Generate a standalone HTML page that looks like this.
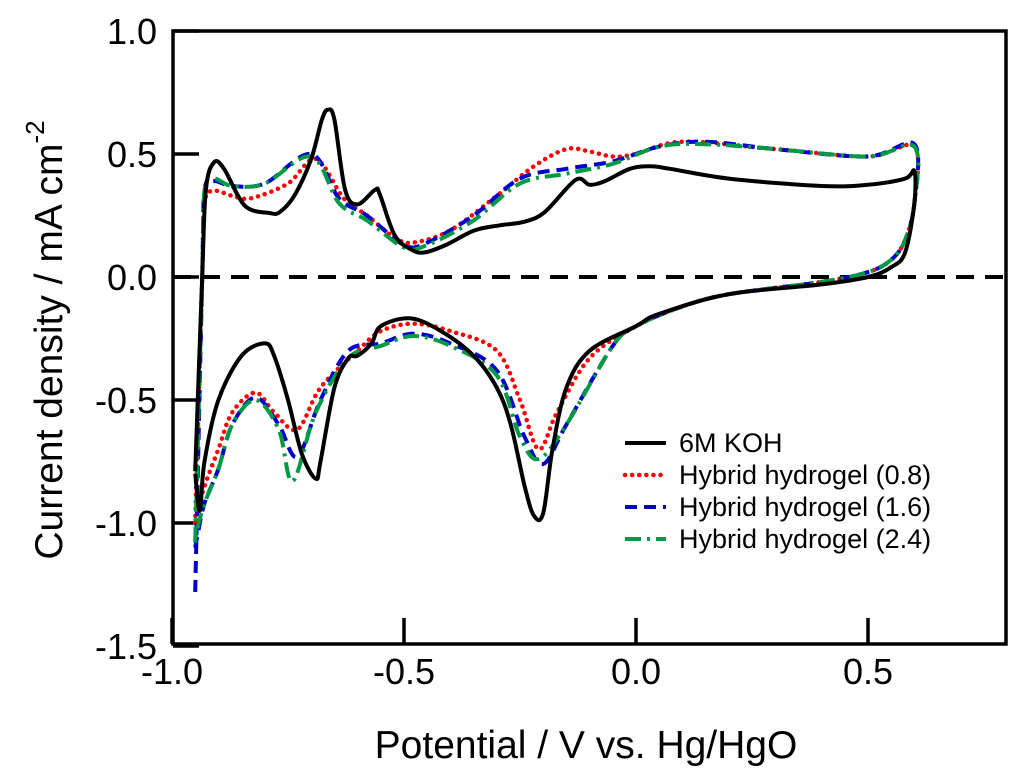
<!DOCTYPE html>
<html><head><meta charset="utf-8"><style>
body{margin:0;background:#fff}
svg{font-family:"Liberation Sans",sans-serif}
</style></head><body>
<svg id="c" width="1024" height="772"></svg>
<script>
const xTicks=[-1.0,-0.5,0.0,0.5];
const xTickLabels=["-1.0","-0.5","0.0","0.5"];
const yTicks=[1.0,0.5,0.0,-0.5,-1.0,-1.5];
const yTickLabels=["1.0","0.5","0.0","-0.5","-1.0","-1.5"];
const seriesNames=["6M KOH","Hybrid hydrogel (0.8)","Hybrid hydrogel (1.6)","Hybrid hydrogel (2.4)"];
const kohV=[-0.95,-0.935,-0.927,-0.91,-0.888,-0.843,-0.79,-0.767,-0.735,-0.70,-0.677,-0.664,-0.65,-0.627,-0.6,-0.562,-0.552,-0.52,-0.483,-0.455,-0.41,-0.347,-0.293,-0.24,-0.196,-0.13,-0.1,-0.067,-0.013,0.03,0.073,0.2,0.4,0.5,0.58,0.6,0.6,0.58,0.55,0.5,0.4,0.2,0.05,0.0,-0.1,-0.15,-0.18,-0.2,-0.22,-0.24,-0.27,-0.3,-0.35,-0.42,-0.487,-0.55,-0.57,-0.6,-0.62,-0.65,-0.68,-0.69,-0.72,-0.75,-0.78,-0.80,-0.85,-0.9,-0.93,-0.94,-0.95];
const kohJ=[-0.79,0.0,0.355,0.465,0.44,0.29,0.26,0.265,0.335,0.48,0.64,0.68,0.64,0.355,0.295,0.355,0.335,0.17,0.11,0.10,0.13,0.19,0.21,0.225,0.265,0.395,0.375,0.39,0.44,0.45,0.44,0.40,0.37,0.375,0.40,0.43,0.3,0.1,0.04,0.0,-0.03,-0.07,-0.15,-0.2,-0.3,-0.45,-0.7,-0.96,-0.97,-0.85,-0.6,-0.45,-0.32,-0.22,-0.168,-0.2,-0.27,-0.32,-0.33,-0.45,-0.75,-0.82,-0.72,-0.5,-0.32,-0.27,-0.32,-0.5,-0.75,-0.95,-0.8];
const h08V=[-0.95,-0.935,-0.93,-0.91,-0.87,-0.83,-0.75,-0.69,-0.63,-0.58,-0.52,-0.48,-0.4,-0.3,-0.22,-0.15,-0.1,-0.05,0.0,0.1,0.3,0.5,0.6,0.6,0.58,0.55,0.5,0.4,0.2,0.1,0.0,-0.1,-0.17,-0.21,-0.25,-0.3,-0.4,-0.48,-0.55,-0.6,-0.68,-0.73,-0.78,-0.82,-0.87,-0.9,-0.93,-0.945,-0.95];
const h08J=[-1.0,0.0,0.3,0.35,0.33,0.32,0.38,0.48,0.32,0.25,0.16,0.14,0.19,0.33,0.45,0.52,0.51,0.49,0.5,0.55,0.52,0.49,0.53,0.3,0.15,0.07,0.02,-0.02,-0.07,-0.12,-0.2,-0.33,-0.55,-0.7,-0.5,-0.3,-0.22,-0.19,-0.22,-0.3,-0.45,-0.62,-0.55,-0.47,-0.55,-0.7,-0.85,-0.95,-1.0];
const h16V=[-0.95,-0.935,-0.93,-0.91,-0.87,-0.8,-0.7,-0.64,-0.58,-0.5,-0.45,-0.35,-0.25,-0.15,-0.05,0.05,0.15,0.3,0.5,0.6,0.6,0.58,0.55,0.5,0.4,0.2,0.1,0.0,-0.05,-0.15,-0.2,-0.24,-0.3,-0.4,-0.48,-0.55,-0.62,-0.68,-0.73,-0.77,-0.82,-0.87,-0.9,-0.93,-0.945,-0.95];
const h16J=[-1.28,0.0,0.35,0.39,0.37,0.38,0.5,0.32,0.25,0.13,0.14,0.25,0.4,0.44,0.47,0.53,0.55,0.52,0.49,0.54,0.3,0.15,0.07,0.02,-0.02,-0.07,-0.12,-0.2,-0.28,-0.6,-0.76,-0.65,-0.38,-0.27,-0.23,-0.27,-0.3,-0.5,-0.73,-0.6,-0.49,-0.6,-0.78,-0.92,-1.05,-1.1];
const h24V=[-0.95,-0.935,-0.93,-0.91,-0.87,-0.8,-0.7,-0.64,-0.58,-0.5,-0.45,-0.35,-0.25,-0.15,-0.05,0.05,0.15,0.3,0.5,0.6,0.6,0.58,0.55,0.5,0.4,0.2,0.1,0.0,-0.05,-0.15,-0.21,-0.25,-0.3,-0.4,-0.48,-0.55,-0.62,-0.69,-0.74,-0.77,-0.82,-0.87,-0.9,-0.93,-0.945,-0.95];
const h24J=[-1.08,0.0,0.35,0.4,0.37,0.38,0.49,0.3,0.23,0.12,0.13,0.23,0.38,0.42,0.46,0.53,0.54,0.52,0.49,0.53,0.3,0.15,0.07,0.02,-0.02,-0.07,-0.12,-0.2,-0.28,-0.6,-0.74,-0.65,-0.4,-0.28,-0.24,-0.28,-0.33,-0.55,-0.83,-0.62,-0.5,-0.6,-0.78,-0.92,-1.02,-1.08];

const L=173,R=1006,T=31,B=644;
const X=v=>636+(v)*(868-636)/0.5;
const Y=j=>277-j*(277-31)/1.0;
const svg=document.getElementById('c');
const NS='http://www.w3.org/2000/svg';
function mk(tag,attrs,parent){const e=document.createElementNS(NS,tag);for(const k in attrs)e.setAttribute(k,attrs[k]);(parent||svg).appendChild(e);return e;}

const frame=mk('rect',{x:L,y:T,width:R-L,height:B-T,fill:'none',stroke:'#000','stroke-width':3.5});



const zl=mk('line',{x1:L,x2:R,y1:Y(0),y2:Y(0),stroke:'#000','stroke-width':4,'stroke-dasharray':'18 11'});



xTicks.forEach((v,i)=>{
  const t=mk('line',{x1:X(v),x2:X(v),y1:B,y2:B-26,stroke:'#000','stroke-width':3.5});
  
  
  const tx=mk('text',{x:X(v),y:684,'font-size':36,'text-anchor':'middle'});
  tx.textContent=xTickLabels[i];
  
  
});
yTicks.forEach((j,i)=>{
  const t=mk('line',{x1:L,x2:L+26,y1:Y(j),y2:Y(j),stroke:'#000','stroke-width':3.5});
  
  
  const tx=mk('text',{x:157,y:Y(j)+13,'font-size':36,'text-anchor':'end'});
  tx.textContent=yTickLabels[i];
  
  
});

const styles=[
  {c:'#000',d:'',w:4},
  {c:'#ff0000',d:'0.1 7',w:4.5},
  {c:'#0000cc',d:'12 7',w:4},
  {c:'#009944',d:'16 6 3 6',w:4}
];
const data=[[kohV,kohJ],[h08V,h08J],[h16V,h16J],[h24V,h24J]];
const names=['series-6m-koh','series-hydrogel-0-8','series-hydrogel-1-6','series-hydrogel-2-4'];
function smooth(pts){
  let d='M'+pts[0][0].toFixed(1)+','+pts[0][1].toFixed(1);
  for(let i=0;i<pts.length-1;i++){
    const p0=pts[Math.max(0,i-1)],p1=pts[i],p2=pts[i+1],p3=pts[Math.min(pts.length-1,i+2)];
    const c1=[p1[0]+(p2[0]-p0[0])/6,p1[1]+(p2[1]-p0[1])/6];
    const c2=[p2[0]-(p3[0]-p1[0])/6,p2[1]-(p3[1]-p1[1])/6];
    d+='C'+c1.map(n=>n.toFixed(1)).join(',')+' '+c2.map(n=>n.toFixed(1)).join(',')+' '+p2.map(n=>n.toFixed(1)).join(',');
  }
  return d;
}
[1,2,3,0].forEach(k=>{
  const [vs,js]=data[k];
  const pts=vs.map((v,i)=>[X(v),Y(js[i])]);
  const p=mk('path',{d:smooth(pts),fill:'none',stroke:styles[k].c,'stroke-width':styles[k].w,'stroke-dasharray':styles[k].d,'stroke-linejoin':'round','stroke-linecap':k==1?'round':'butt'});
  
  
});

seriesNames.forEach((n,k)=>{
  const y=443+k*32;
  const g=mk('g',{});
  
  
  mk('line',{x1:625,x2:666,y1:y,y2:y,stroke:styles[k].c,'stroke-width':styles[k].w,'stroke-dasharray':styles[k].d,'stroke-linecap':k==1?'round':'butt'},g);
  const t=mk('text',{x:679,y:y+9,'font-size':27},g);
  t.textContent=n;
});

const xt=mk('text',{x:586,y:758,'font-size':39,'text-anchor':'middle'});
xt.textContent='Potential / V vs. Hg/HgO';


const yt=mk('text',{x:0,y:0,'font-size':39,'text-anchor':'middle',transform:'translate(62,340) rotate(-90)'});
yt.innerHTML='Current density / mA cm<tspan dy="-18" font-size="26">-2</tspan>';


</script>
</body></html>
